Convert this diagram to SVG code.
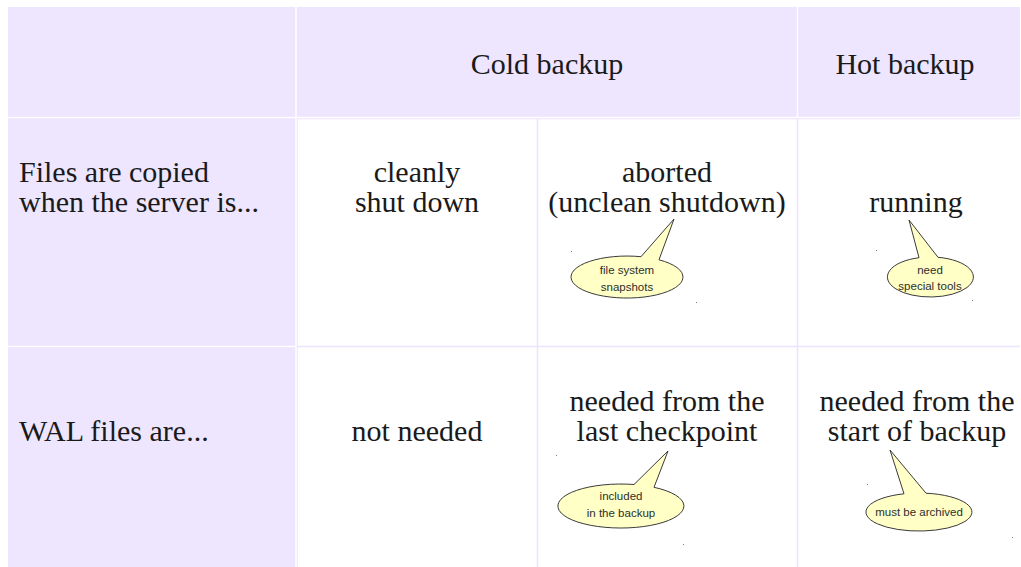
<svg xmlns="http://www.w3.org/2000/svg" width="1021" height="567" viewBox="0 0 1021 567">
  <style>
    .head { fill: #eee5ff; }
    .grid { stroke: #ece3fc; stroke-width: 1.5; fill: none; }
    .gap { stroke: #ffffff; stroke-width: 1.5; fill: none; }
    .big { font-family: "Liberation Serif", "Times New Roman", serif; font-size: 30px; fill: #1a1a1a; }
    .mid { text-anchor: middle; }
    .bubble { fill: #ffffc6; stroke: #3a3a3a; stroke-width: 1; }
    .note { font-family: "Liberation Sans", Arial, sans-serif; font-size: 11.5px; fill: #2e2e2e; text-anchor: middle; }
    .tick { fill: #777777; }
  </style>
  <rect width="1021" height="567" fill="#ffffff"/>

  <!-- table background: header row and label column -->
  <g id="table">
    <rect class="head" x="8" y="7" width="1012" height="111"/>
    <rect class="head" x="8" y="118" width="288" height="449"/>
    <!-- light rules across the white body -->
    <line class="grid" x1="296" y1="118.5" x2="1020" y2="118.5"/>
    <line class="grid" x1="297" y1="118" x2="297" y2="567"/>
    <line class="grid" x1="537.5" y1="118" x2="537.5" y2="567"/>
    <line class="grid" x1="797.5" y1="118" x2="797.5" y2="567"/>
    <line class="grid" x1="296" y1="346.5" x2="1020" y2="346.5"/>
    <!-- white separators inside the tinted cells -->
    <line class="gap" x1="296" y1="7" x2="296" y2="567"/>
    <line class="gap" x1="797.5" y1="7" x2="797.5" y2="118"/>
    <line class="gap" x1="8" y1="117.5" x2="1020" y2="117.5"/>
    <line class="gap" x1="8" y1="346.5" x2="296" y2="346.5"/>
  </g>

  <!-- header cells -->
  <g id="head-cold"><text class="big mid" x="547" y="74">Cold backup</text></g>
  <g id="head-hot"><text class="big mid" x="905" y="74">Hot backup</text></g>

  <!-- row labels -->
  <g id="label-files">
    <text class="big" x="19" y="182">Files are copied</text>
    <text class="big" x="19" y="212">when the server is...</text>
  </g>
  <g id="label-wal"><text class="big" x="19" y="441">WAL files are...</text></g>

  <!-- row 1 -->
  <g id="files-clean">
    <text class="big mid" x="417" y="182">cleanly</text>
    <text class="big mid" x="417" y="212">shut down</text>
  </g>
  <g id="files-aborted">
    <text class="big mid" x="667" y="182">aborted</text>
    <text class="big mid" x="667" y="212">(unclean shutdown)</text>
  </g>
  <g id="files-running"><text class="big mid" x="916" y="212">running</text></g>

  <!-- row 2 -->
  <g id="wal-none"><text class="big mid" x="417" y="441">not needed</text></g>
  <g id="wal-checkpoint">
    <text class="big mid" x="667" y="411">needed from the</text>
    <text class="big mid" x="667" y="441">last checkpoint</text>
  </g>
  <g id="wal-start">
    <text class="big mid" x="917" y="411">needed from the</text>
    <text class="big mid" x="917" y="441">start of backup</text>
  </g>

  <!-- callouts: ellipse with a wedge pointing at the cell text -->
  <g id="note-snapshots">
    <path class="bubble" d="M641,256.7 A56,21 0 1 0 659,259.8 L674,219 Z"/>
    <text class="note" x="627" y="274">file system</text>
    <text class="note" x="627" y="290.5">snapshots</text>
    <rect class="tick" x="571" y="251" width="1" height="1"/>
    <rect class="tick" x="696" y="302" width="1" height="1"/>
  </g>
  <g id="note-tools">
    <path class="bubble" d="M919,257.7 A43,20 0 1 0 938,257.3 L909,220 Z"/>
    <text class="note" x="930" y="274">need</text>
    <text class="note" x="930" y="289.5">special tools</text>
    <rect class="tick" x="876" y="250" width="1" height="1"/>
    <rect class="tick" x="972" y="300" width="1" height="1"/>
  </g>
  <g id="note-included">
    <path class="bubble" d="M634,484.5 A63,22 0 1 0 654,487.3 L668,451 Z"/>
    <text class="note" x="621" y="500">included</text>
    <text class="note" x="621" y="517">in the backup</text>
    <rect class="tick" x="556" y="455" width="1" height="1"/>
    <rect class="tick" x="683" y="544" width="1" height="1"/>
  </g>
  <g id="note-archived">
    <path class="bubble" d="M904,493.8 A53,19 0 1 0 926,493.2 L890,450 Z"/>
    <text class="note" x="919" y="516">must be archived</text>
    <rect class="tick" x="867" y="484" width="1" height="1"/>
    <rect class="tick" x="1012" y="537" width="1" height="1"/>
  </g>
</svg>
